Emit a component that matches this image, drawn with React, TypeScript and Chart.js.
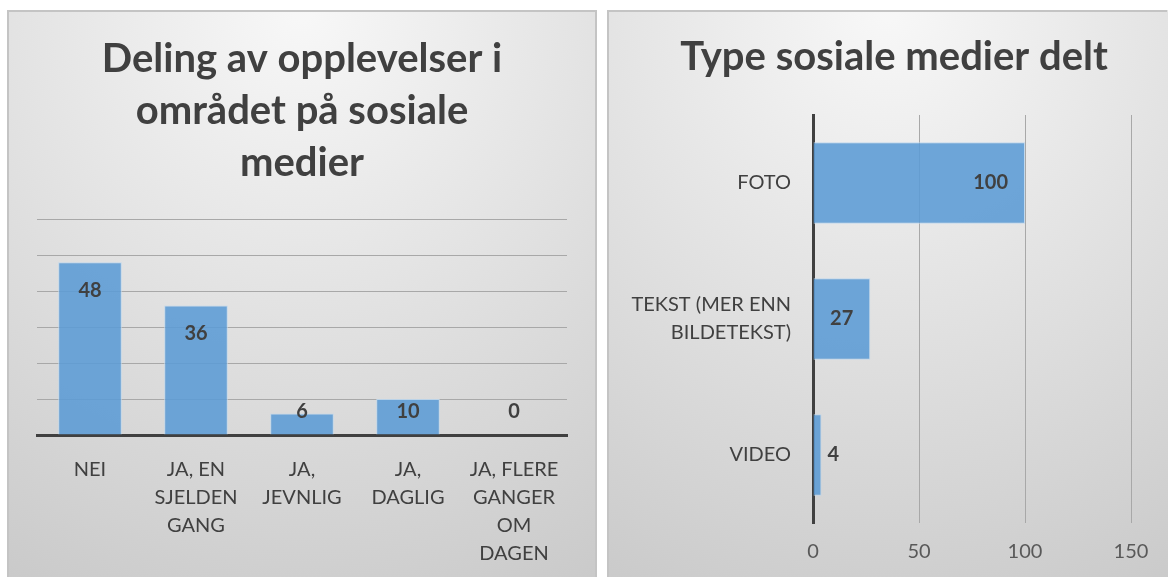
import React, { useEffect, useRef } from "react";
import { Chart, registerables } from "chart.js";

Chart.register(...registerables);

const leftTitle = ["Deling av opplevelser i", "området på sosiale", "medier"];
const leftCategories = [
  ["NEI"],
  ["JA, EN", "SJELDEN", "GANG"],
  ["JA,", "JEVNLIG"],
  ["JA,", "DAGLIG"],
  ["JA, FLERE", "GANGER", "OM", "DAGEN"],
];
const leftValues = [48, 36, 6, 10, 0];
const leftMax = 60;
const leftStep = 10;

const rightTitle = "Type sosiale medier delt";
const rightCategories = [["FOTO"], ["TEKST (MER ENN", "BILDETEKST)"], ["VIDEO"]];
const rightValues = [100, 27, 4];
const rightMax = 150;
const rightStep = 50;

const FONT = "Lato, 'Open Sans', sans-serif";
const BAR_FILL = "rgba(91,155,213,0.88)";
const BAR_BORDER = "rgba(189,215,238,0.9)";
const TEXT = "#404040";

const bgPlugin = {
  id: "panelBg",
  beforeDraw(chart: any) {
    const { ctx, width, height } = chart;
    ctx.save();
    const g = ctx.createRadialGradient(width / 2, 0, 10, width / 2, 0, height * 1.15);
    g.addColorStop(0, "#f7f7f7");
    g.addColorStop(1, "#c9c9c9");
    ctx.fillStyle = g;
    ctx.fillRect(0, 0, width, height);
    ctx.strokeStyle = "#c4c4c4";
    ctx.lineWidth = 2;
    ctx.beginPath();
    ctx.moveTo(1, height);
    ctx.lineTo(1, 1);
    ctx.lineTo(width - 1, 1);
    if (chart.options.plugins.panelBg?.rightBorder) ctx.lineTo(width - 1, height);
    ctx.stroke();
    ctx.restore();
  },
};

// Title drawn with a horizontal offset (Excel centres it slightly right of the panel centre)
const offsetTitlePlugin = {
  id: "offsetTitle",
  afterDraw(chart: any) {
    const o = chart.options.plugins.offsetTitle;
    if (!o) return;
    const { ctx } = chart;
    ctx.save();
    ctx.font = `bold 40px ${FONT}`;
    ctx.fillStyle = TEXT;
    ctx.textAlign = "center";
    ctx.textBaseline = "middle";
    ctx.fillText(o.text, o.x, o.y);
    ctx.restore();
  },
};

const vLabelPlugin = {
  id: "vLabels",
  afterDatasetsDraw(chart: any) {
    const { ctx } = chart;
    const meta = chart.getDatasetMeta(0);
    const ds = chart.data.datasets[0].data;
    const base = chart.scales.y.getPixelForValue(0);
    ctx.save();
    ctx.font = `bold 20px ${FONT}`;
    ctx.fillStyle = TEXT;
    ctx.textAlign = "center";
    ctx.textBaseline = "middle";
    meta.data.forEach((el: any, i: number) => {
      const y = Math.min(el.y + 28, base - 23);
      ctx.fillText(String(ds[i]), el.x, y);
    });
    ctx.restore();
  },
};

const hLabelPlugin = {
  id: "hLabels",
  afterDatasetsDraw(chart: any) {
    const { ctx } = chart;
    const meta = chart.getDatasetMeta(0);
    const ds = chart.data.datasets[0].data;
    const base = chart.scales.x.getPixelForValue(0);
    ctx.save();
    ctx.font = `bold 20px ${FONT}`;
    ctx.fillStyle = TEXT;
    ctx.textBaseline = "middle";
    meta.data.forEach((el: any, i: number) => {
      const txt = String(ds[i]);
      const w = ctx.measureText(txt).width;
      if (el.x - base > w + 30) {
        ctx.textAlign = "right";
        ctx.fillText(txt, el.x - 17, el.y);
      } else {
        ctx.textAlign = "left";
        ctx.fillText(txt, el.x + 6, el.y);
      }
    });
    ctx.restore();
  },
};

function LeftChart() {
  const ref = useRef<HTMLCanvasElement>(null);
  useEffect(() => {
    const chart = new Chart(ref.current!, {
      type: "bar",
      data: {
        labels: leftCategories,
        datasets: [
          {
            data: leftValues,
            backgroundColor: BAR_FILL,
            borderColor: BAR_BORDER,
            borderWidth: 1,
            categoryPercentage: 0.6,
            barPercentage: 1,
          },
        ],
      },
      options: {
        animation: false,
        responsive: false,
        devicePixelRatio: 1,
        layout: { padding: { left: 30, right: 30, top: 0, bottom: 0 } },
        plugins: {
          legend: { display: false },
          tooltip: { enabled: false },
          panelBg: { rightBorder: true },
          title: {
            display: true,
            text: leftTitle,
            color: TEXT,
            font: { family: FONT, size: 40, weight: "bold", lineHeight: 52 / 40 },
            padding: { top: 23, bottom: 30 },
          },
        } as any,
        scales: {
          x: {
            grid: { display: false },
            border: { display: true, color: TEXT, width: 3 },
            ticks: {
              color: TEXT,
              font: { family: FONT, size: 20, lineHeight: 28 / 20 },
              padding: 13,
              maxRotation: 0,
              autoSkip: false,
            },
            afterFit: (s: any) => {
              s.height = 142;
            },
          },
          y: {
            min: 0,
            max: leftMax,
            ticks: { display: false, stepSize: leftStep },
            grid: { color: "#a8a8a8", lineWidth: 1, drawTicks: false },
            border: { display: false },
            afterFit: (s: any) => {
              s.width = 0;
            },
          },
        },
      },
      plugins: [bgPlugin, vLabelPlugin],
    });
    return () => chart.destroy();
  }, []);
  return (
    <canvas
      ref={ref}
      width={590}
      height={567}
      style={{ position: "absolute", left: 7, top: 10, width: 590, height: 567 }}
    />
  );
}

function RightChart() {
  const ref = useRef<HTMLCanvasElement>(null);
  useEffect(() => {
    const chart = new Chart(ref.current!, {
      type: "bar",
      data: {
        labels: rightCategories,
        datasets: [
          {
            data: rightValues,
            backgroundColor: BAR_FILL,
            borderColor: BAR_BORDER,
            borderWidth: 1,
            categoryPercentage: 0.6,
            barPercentage: 1,
          },
        ],
      },
      options: {
        indexAxis: "y",
        animation: false,
        responsive: false,
        devicePixelRatio: 1,
        layout: { padding: { left: 0, right: 37, top: 105, bottom: 0 } },
        plugins: {
          legend: { display: false },
          tooltip: { enabled: false },
          panelBg: { rightBorder: false },
          title: { display: false },
          offsetTitle: { text: rightTitle, x: 287, y: 47 },
        } as any,
        scales: {
          x: {
            min: 0,
            max: rightMax,
            ticks: {
              stepSize: rightStep,
              color: "#595959",
              font: { family: FONT, size: 20 },
              padding: 17,
            },
            grid: { color: "#a8a8a8", lineWidth: 1, drawTicks: false },
            border: { display: false },
            afterFit: (s: any) => {
              s.height = 54;
            },
          },
          y: {
            grid: { display: false },
            border: { display: true, color: TEXT, width: 3 },
            ticks: {
              color: TEXT,
              font: { family: FONT, size: 20, lineHeight: 28 / 20 },
              padding: 14,
              autoSkip: false,
            },
            afterFit: (s: any) => {
              s.width = 206;
            },
          },
        },
      },
      plugins: [bgPlugin, hLabelPlugin, offsetTitlePlugin],
    });
    return () => chart.destroy();
  }, []);
  return (
    <canvas
      ref={ref}
      width={561}
      height={567}
      style={{ position: "absolute", left: 607, top: 10, width: 561, height: 567 }}
    />
  );
}

export default function App() {
  useEffect(() => {
    document.body.style.overflow = "hidden";
  }, []);
  return (
    <div>
      <LeftChart />
      <RightChart />
    </div>
  );
}
